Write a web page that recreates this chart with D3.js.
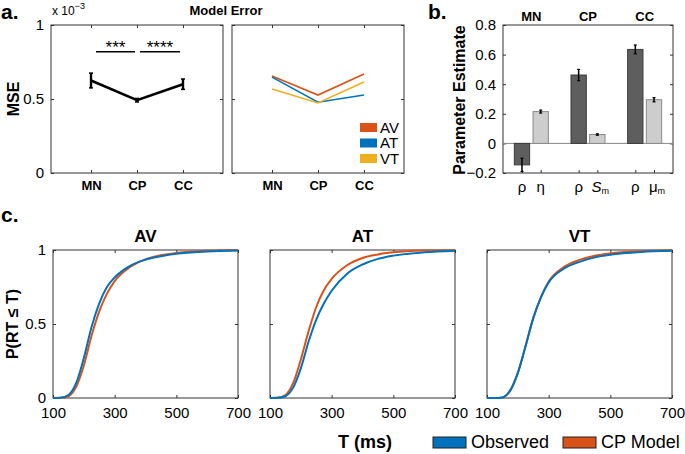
<!DOCTYPE html>
<html><head><meta charset="utf-8">
<script src="https://cdn.jsdelivr.net/npm/d3@7"></script>
<style>
body{margin:0;background:#fff;}
text{font-family:"Liberation Sans",Arial,Helvetica,sans-serif;fill:#000;}
</style></head>
<body>
<script>
// ---------- DATA ----------
const models = ["MN","CP","CC"];
const mseMean = [0.625, 0.492, 0.600];   // x 1e-3
const mseErr  = [0.050, 0.012, 0.035];
const sigMarks = ["***","****"];
const mseAV = [0.655, 0.527, 0.669];
const mseAT = [0.648, 0.478, 0.527];
const mseVT = [0.567, 0.473, 0.615];
const modalities = ["AV","AT","VT"];
const modalityColors = ["#D95319","#0072BD","#EDB120"];

const rhoVals = [-0.145, 0.462, 0.635];
const rhoErr  = [0.045, 0.038, 0.030];
const secVals = [0.215, 0.060, 0.295];
const secErr  = [0.010, 0.005, 0.014];
const secNames = [["η",""],["S","m"],["μ","m"]];
const bTicks = [-0.2,0,0.2,0.4,0.6,0.8];

const cdfT = [100,125,150,175,200,225,250,275,300,350,400,450,500,600,700];
const avObs   = [0,0.002,0.020,0.100,0.270,0.480,0.640,0.750,0.815,0.893,0.935,0.958,0.975,0.990,0.996];
const avModel = [0,0.001,0.012,0.075,0.220,0.420,0.585,0.705,0.790,0.885,0.937,0.964,0.980,0.995,0.999];
const atObs   = [0,0.001,0.012,0.070,0.200,0.380,0.530,0.640,0.725,0.840,0.902,0.940,0.962,0.984,0.995];
const atModel = [0,0.002,0.020,0.100,0.260,0.450,0.615,0.730,0.805,0.897,0.946,0.970,0.984,0.996,0.999];
const vtObs   = [0,0,0.004,0.050,0.170,0.350,0.540,0.680,0.780,0.875,0.920,0.950,0.968,0.987,0.995];
const vtModel = [0,0,0.004,0.050,0.170,0.350,0.540,0.682,0.787,0.886,0.933,0.961,0.977,0.992,0.998];
const cTicks = [100,300,500,700];
const cPanels = [
  {name:"AV", obs:avObs, mod:avModel},
  {name:"AT", obs:atObs, mod:atModel},
  {name:"VT", obs:vtObs, mod:vtModel}
];
const legendC = ["Observed","CP Model"];
const obsColor = "#0072BD", modColor = "#D95319";

// ---------- DRAW ----------
const svg = d3.select("body").append("svg").attr("width",685).attr("height",454);
const boxColor = "#333";

function frame(x0,x1,y0,y1){
  svg.append("rect").attr("x",x0).attr("y",y0).attr("width",x1-x0).attr("height",y1-y0)
    .attr("fill","none").attr("stroke",boxColor).attr("stroke-width",1);
}
function styleAxis(g){
  g.select(".domain").remove();
  g.selectAll(".tick line").attr("stroke",boxColor);
}
function fullAxes(xs, ys, xt, yt, xfmt, yfmt, fs, xpad){
  const [x0,x1] = xs.range(), [y1,y0] = ys.range();
  frame(x0,x1,y0,y1);
  const ax = [
    svg.append("g").attr("transform",`translate(0,${y1})`).call(d3.axisBottom(xs).tickValues(xt).tickSize(-3).tickPadding(xpad||8).tickFormat(xfmt)),
    svg.append("g").attr("transform",`translate(0,${y0})`).call(d3.axisTop(xs).tickValues(xt).tickSize(-3).tickFormat("")),
    svg.append("g").attr("transform",`translate(${x0},0)`).call(d3.axisLeft(ys).tickValues(yt).tickSize(-3).tickPadding(7).tickFormat(yfmt)),
    svg.append("g").attr("transform",`translate(${x1},0)`).call(d3.axisRight(ys).tickValues(yt).tickSize(-3).tickFormat(""))
  ];
  ax.forEach(styleAxis);
  ax.forEach(g=>g.selectAll("text").attr("font-size",fs).attr("font-family",null).attr("fill","#000"));
  return ax;
}

// panel labels
svg.append("text").attr("x",1).attr("y",19).attr("font-size",21).attr("font-weight","bold").text("a.");
svg.append("text").attr("x",428).attr("y",19).attr("font-size",21).attr("font-weight","bold").text("b.");
svg.append("text").attr("x",1).attr("y",222).attr("font-size",21).attr("font-weight","bold").text("c.");

// ----- panel a left -----
const yA = d3.scaleLinear().domain([0,1]).range([173,25]);
const xA1 = d3.scaleLinear().domain([0.13,3.87]).range([51,223]);
const xA2 = d3.scaleLinear().domain([0.13,3.87]).range([232,404]);
const catFmt = d => models[d-1];
const a1 = fullAxes(xA1,yA,[1,2,3],[0,0.5,1],catFmt,d3.format("~g"),15);
a1[0].selectAll("text").attr("font-weight","bold").attr("font-size",13);
const a2 = fullAxes(xA2,yA,[1,2,3],[0,0.5,1],catFmt,"",15);
a2[0].selectAll("text").attr("font-weight","bold").attr("font-size",13);

svg.append("text").attr("x",52).attr("y",15).attr("font-size",12).text("x 10")
  .append("tspan").attr("dy",-6).attr("font-size",9).text("−3");
svg.append("text").attr("x",226).attr("y",15).attr("text-anchor","middle").attr("font-size",13).attr("font-weight","bold").text("Model Error");
svg.append("text").attr("transform","translate(19,99) rotate(-90)").attr("text-anchor","middle").attr("font-size",16).attr("font-weight","bold").text("MSE");

const idx = [1,2,3];
svg.append("path").datum(mseMean).attr("fill","none").attr("stroke","#000").attr("stroke-width",2.6)
  .attr("d",d3.line().x((d,i)=>xA1(idx[i])).y(d=>yA(d)));
mseMean.forEach((m,i)=>{
  const x = xA1(idx[i]);
  svg.append("line").attr("x1",x).attr("x2",x).attr("y1",yA(m-mseErr[i])).attr("y2",yA(m+mseErr[i])).attr("stroke","#000").attr("stroke-width",2.4);
  [m-mseErr[i], m+mseErr[i]].forEach(v=>svg.append("line").attr("x1",x-2).attr("x2",x+2).attr("y1",yA(v)).attr("y2",yA(v)).attr("stroke","#000").attr("stroke-width",1.5));
});
// significance
const sigY = yA(0.82);
[[1,2],[2,3]].forEach((p,k)=>{
  const xa = xA1(p[0]) + (k===0?5:3), xb = xA1(p[1]) - (k===0?2:3);
  svg.append("line").attr("x1",xa).attr("x2",xb).attr("y1",sigY).attr("y2",sigY).attr("stroke","#000").attr("stroke-width",1.5);
  svg.append("text").attr("x",(xa+xb)/2).attr("y",sigY+1.5).attr("text-anchor","middle").attr("font-size",17).text(sigMarks[k]);
});

// ----- panel a right -----
[mseAV,mseAT,mseVT].forEach((s,k)=>{
  svg.append("path").datum(s).attr("fill","none").attr("stroke",modalityColors[k]).attr("stroke-width",1.6)
    .attr("d",d3.line().x((d,i)=>xA2(idx[i])).y(d=>yA(d)));
});
modalities.forEach((m,k)=>{
  const yy = 123 + k*15.5;
  svg.append("rect").attr("x",360).attr("y",yy).attr("width",17).attr("height",9).attr("fill",modalityColors[k]);
  svg.append("text").attr("x",380).attr("y",yy+9.5).attr("font-size",15).text(m);
});

// ----- panel b -----
const xB = d3.scaleLinear().domain([0.5,3.5]).range([503,673]);
const yB = d3.scaleLinear().domain([-0.2,0.8]).range([173,25]);
const off = 0.165, bw = 0.27;
const barCenters = [];
models.forEach((m,i)=>{ barCenters.push(i+1-off, i+1+off); });
const b = fullAxes(xB,yB,barCenters,bTicks,"",d3.format("~g"),15);
b[1].remove();
svg.append("line").attr("x1",503).attr("x2",673).attr("y1",yB(0)).attr("y2",yB(0)).attr("stroke","#888").attr("stroke-width",1);
function bar(xc,v,fill,stroke){
  svg.append("rect").attr("x",xB(xc-bw/2)).attr("width",xB(xc+bw/2)-xB(xc-bw/2))
    .attr("y",yB(Math.max(v,0))).attr("height",Math.abs(yB(v)-yB(0)))
    .attr("fill",fill).attr("stroke",stroke).attr("stroke-width",1);
}
function ebar(xc,v,e){
  const x = xB(xc);
  svg.append("line").attr("x1",x).attr("x2",x).attr("y1",yB(v-e)).attr("y2",yB(v+e)).attr("stroke","#000").attr("stroke-width",1.5);
  [v-e,v+e].forEach(t=>svg.append("line").attr("x1",x-1.5).attr("x2",x+1.5).attr("y1",yB(t)).attr("y2",yB(t)).attr("stroke","#000").attr("stroke-width",1.2));
}
models.forEach((m,i)=>{
  const g = i+1;
  bar(g-off, rhoVals[i], "#5e5e5e", "#3a3a3a");
  bar(g+off, secVals[i], "#cdcdcd", "#8a8a8a");
  ebar(g-off, rhoVals[i], rhoErr[i]);
  ebar(g+off, secVals[i], secErr[i]);
  svg.append("text").attr("x",xB(g)).attr("y",21).attr("text-anchor","middle").attr("font-size",13).attr("font-weight","bold").text(m);
  svg.append("text").attr("x",xB(g-off)).attr("y",192).attr("text-anchor","middle").attr("font-size",15).text("ρ");
  const t = svg.append("text").attr("x",xB(g+off)+(secNames[i][1]?3:0)).attr("y",192).attr("text-anchor","middle").attr("font-size",15);
  t.append("tspan").attr("font-style",secNames[i][0]==="S"?"italic":null).text(secNames[i][0]);
  if(secNames[i][1]) t.append("tspan").attr("font-size",9).attr("dy",2).text(secNames[i][1]);
});
svg.append("text").attr("transform","translate(465,100) rotate(-90)").attr("text-anchor","middle").attr("font-size",16).attr("font-weight","bold").text("Parameter Estimate");

// ----- panel c -----
const yC = d3.scaleLinear().domain([0,1]).range([398,250]);
const cX0 = [53,270,487];
cPanels.forEach((p,k)=>{
  const xC = d3.scaleLinear().domain([100,700]).range([cX0[k],cX0[k]+185]);
  fullAxes(xC,yC,cTicks,[0,0.5,1],d3.format("d"),k===0?d3.format("~g"):"",15,9);
  const line = d3.line().x((d,i)=>xC(cdfT[i])).y(d=>yC(d)).curve(d3.curveMonotoneX);
  svg.append("path").datum(p.mod).attr("fill","none").attr("stroke",modColor).attr("stroke-width",2).attr("d",line);
  svg.append("path").datum(p.obs).attr("fill","none").attr("stroke",obsColor).attr("stroke-width",2).attr("d",line);
  svg.append("text").attr("x",cX0[k]+92.5).attr("y",242).attr("text-anchor","middle").attr("font-size",17).attr("font-weight","bold").text(p.name);
});
svg.append("text").attr("transform","translate(18,324) rotate(-90)").attr("text-anchor","middle").attr("font-size",16).attr("font-weight","bold").text("P(RT ≤ T)");
svg.append("text").attr("x",365).attr("y",448).attr("text-anchor","middle").attr("font-size",18).attr("font-weight","bold").text("T (ms)");
[[433,obsColor],[563,modColor]].forEach((d,k)=>{
  svg.append("rect").attr("x",d[0]).attr("y",437).attr("width",33).attr("height",11).attr("fill",d[1]).attr("stroke","#222").attr("stroke-width",1);
  svg.append("text").attr("x",d[0]+38).attr("y",448).attr("font-size",18).text(legendC[k]);
});
</script>
</body></html>
